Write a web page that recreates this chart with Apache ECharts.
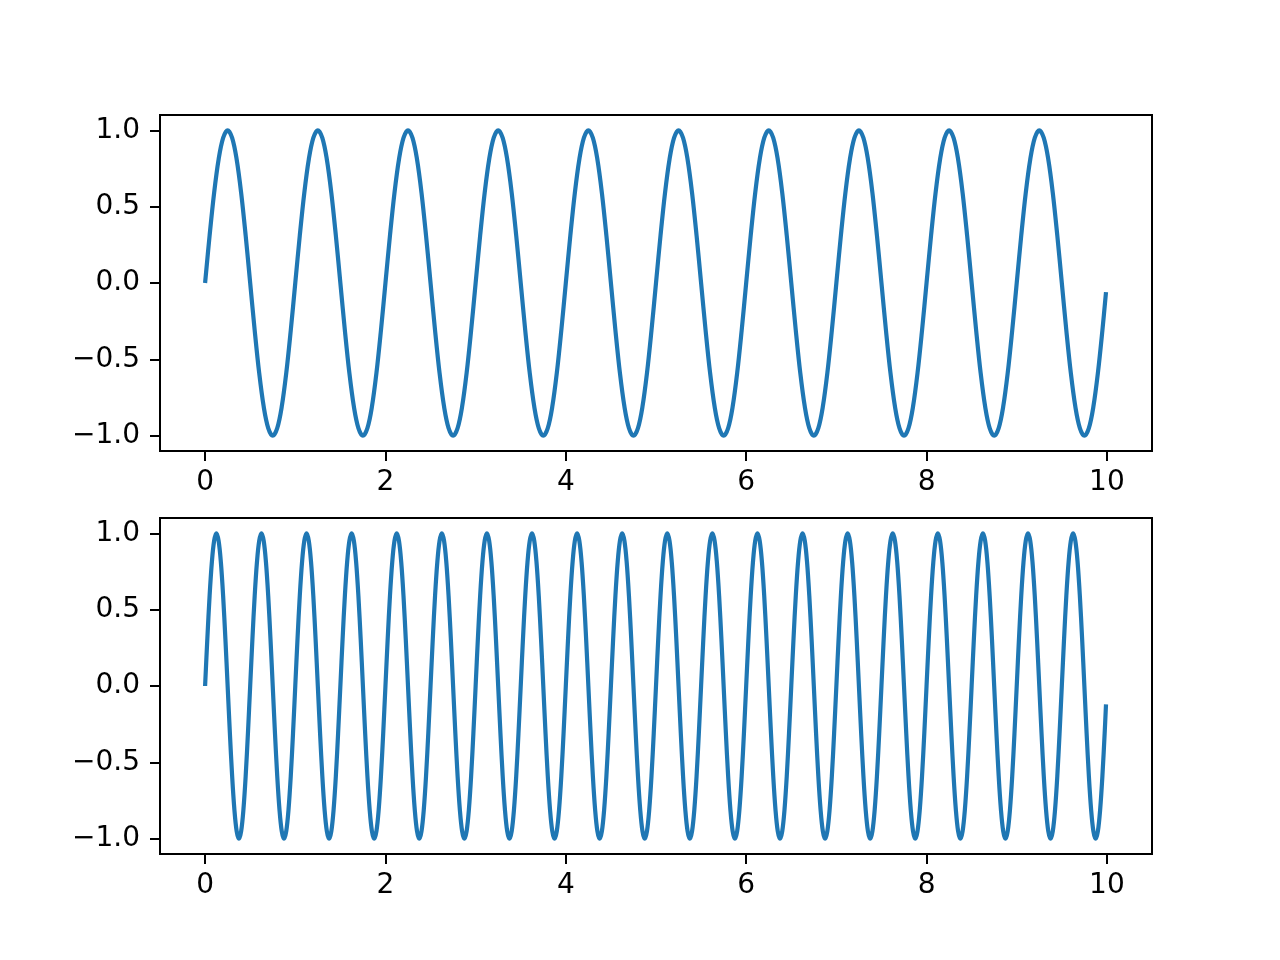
<!DOCTYPE html>
<html>
<head>
<meta charset="utf-8">
<script src="https://cdn.jsdelivr.net/npm/echarts@6/dist/echarts.min.js"></script>
<style>
  html, body { margin: 0; padding: 0; background: #fff; }
  #chart { width: 1280px; height: 960px; }
</style>
</head>
<body>
<div id="chart"></div>
<script>
// top panel: one full wave per unit, samples every 0.05
const xTop = [
  0, 0.05, 0.1, 0.15, 0.2, 0.25, 0.3, 0.35, 0.4, 0.45, 0.5, 0.55, 0.6, 0.65, 0.7, 0.75, 0.8, 0.85, 0.9, 0.95,
  1, 1.05, 1.1, 1.15, 1.2, 1.25, 1.3, 1.35, 1.4, 1.45, 1.5, 1.55, 1.6, 1.65, 1.7, 1.75, 1.8, 1.85, 1.9, 1.95,
  2, 2.05, 2.1, 2.15, 2.2, 2.25, 2.3, 2.35, 2.4, 2.45, 2.5, 2.55, 2.6, 2.65, 2.7, 2.75, 2.8, 2.85, 2.9, 2.95,
  3, 3.05, 3.1, 3.15, 3.2, 3.25, 3.3, 3.35, 3.4, 3.45, 3.5, 3.55, 3.6, 3.65, 3.7, 3.75, 3.8, 3.85, 3.9, 3.95,
  4, 4.05, 4.1, 4.15, 4.2, 4.25, 4.3, 4.35, 4.4, 4.45, 4.5, 4.55, 4.6, 4.65, 4.7, 4.75, 4.8, 4.85, 4.9, 4.95,
  5, 5.05, 5.1, 5.15, 5.2, 5.25, 5.3, 5.35, 5.4, 5.45, 5.5, 5.55, 5.6, 5.65, 5.7, 5.75, 5.8, 5.85, 5.9, 5.95,
  6, 6.05, 6.1, 6.15, 6.2, 6.25, 6.3, 6.35, 6.4, 6.45, 6.5, 6.55, 6.6, 6.65, 6.7, 6.75, 6.8, 6.85, 6.9, 6.95,
  7, 7.05, 7.1, 7.15, 7.2, 7.25, 7.3, 7.35, 7.4, 7.45, 7.5, 7.55, 7.6, 7.65, 7.7, 7.75, 7.8, 7.85, 7.9, 7.95,
  8, 8.05, 8.1, 8.15, 8.2, 8.25, 8.3, 8.35, 8.4, 8.45, 8.5, 8.55, 8.6, 8.65, 8.7, 8.75, 8.8, 8.85, 8.9, 8.95,
  9, 9.05, 9.1, 9.15, 9.2, 9.25, 9.3, 9.35, 9.4, 9.45, 9.5, 9.55, 9.6, 9.65, 9.7, 9.75, 9.8, 9.85, 9.9, 9.95,
  9.99
];
const yTop = [
  0, 0.31, 0.59, 0.81, 0.95, 1, 0.95, 0.81, 0.59, 0.31, 0, -0.31, -0.59, -0.81, -0.95, -1, -0.95, -0.81, -0.59, -0.31,
  0, 0.31, 0.59, 0.81, 0.95, 1, 0.95, 0.81, 0.59, 0.31, 0, -0.31, -0.59, -0.81, -0.95, -1, -0.95, -0.81, -0.59, -0.31,
  0, 0.31, 0.59, 0.81, 0.95, 1, 0.95, 0.81, 0.59, 0.31, 0, -0.31, -0.59, -0.81, -0.95, -1, -0.95, -0.81, -0.59, -0.31,
  0, 0.31, 0.59, 0.81, 0.95, 1, 0.95, 0.81, 0.59, 0.31, 0, -0.31, -0.59, -0.81, -0.95, -1, -0.95, -0.81, -0.59, -0.31,
  0, 0.31, 0.59, 0.81, 0.95, 1, 0.95, 0.81, 0.59, 0.31, 0, -0.31, -0.59, -0.81, -0.95, -1, -0.95, -0.81, -0.59, -0.31,
  0, 0.31, 0.59, 0.81, 0.95, 1, 0.95, 0.81, 0.59, 0.31, 0, -0.31, -0.59, -0.81, -0.95, -1, -0.95, -0.81, -0.59, -0.31,
  0, 0.31, 0.59, 0.81, 0.95, 1, 0.95, 0.81, 0.59, 0.31, 0, -0.31, -0.59, -0.81, -0.95, -1, -0.95, -0.81, -0.59, -0.31,
  0, 0.31, 0.59, 0.81, 0.95, 1, 0.95, 0.81, 0.59, 0.31, 0, -0.31, -0.59, -0.81, -0.95, -1, -0.95, -0.81, -0.59, -0.31,
  0, 0.31, 0.59, 0.81, 0.95, 1, 0.95, 0.81, 0.59, 0.31, 0, -0.31, -0.59, -0.81, -0.95, -1, -0.95, -0.81, -0.59, -0.31,
  0, 0.31, 0.59, 0.81, 0.95, 1, 0.95, 0.81, 0.59, 0.31, 0, -0.31, -0.59, -0.81, -0.95, -1, -0.95, -0.81, -0.59, -0.31,
  -0.06
];

// bottom panel: two waves per unit, samples every 0.025
const xBottom = [
  0, 0.025, 0.05, 0.075, 0.1, 0.125, 0.15, 0.175, 0.2, 0.225, 0.25, 0.275, 0.3, 0.325, 0.35, 0.375, 0.4, 0.425, 0.45, 0.475,
  0.5, 0.525, 0.55, 0.575, 0.6, 0.625, 0.65, 0.675, 0.7, 0.725, 0.75, 0.775, 0.8, 0.825, 0.85, 0.875, 0.9, 0.925, 0.95, 0.975,
  1, 1.025, 1.05, 1.075, 1.1, 1.125, 1.15, 1.175, 1.2, 1.225, 1.25, 1.275, 1.3, 1.325, 1.35, 1.375, 1.4, 1.425, 1.45, 1.475,
  1.5, 1.525, 1.55, 1.575, 1.6, 1.625, 1.65, 1.675, 1.7, 1.725, 1.75, 1.775, 1.8, 1.825, 1.85, 1.875, 1.9, 1.925, 1.95, 1.975,
  2, 2.025, 2.05, 2.075, 2.1, 2.125, 2.15, 2.175, 2.2, 2.225, 2.25, 2.275, 2.3, 2.325, 2.35, 2.375, 2.4, 2.425, 2.45, 2.475,
  2.5, 2.525, 2.55, 2.575, 2.6, 2.625, 2.65, 2.675, 2.7, 2.725, 2.75, 2.775, 2.8, 2.825, 2.85, 2.875, 2.9, 2.925, 2.95, 2.975,
  3, 3.025, 3.05, 3.075, 3.1, 3.125, 3.15, 3.175, 3.2, 3.225, 3.25, 3.275, 3.3, 3.325, 3.35, 3.375, 3.4, 3.425, 3.45, 3.475,
  3.5, 3.525, 3.55, 3.575, 3.6, 3.625, 3.65, 3.675, 3.7, 3.725, 3.75, 3.775, 3.8, 3.825, 3.85, 3.875, 3.9, 3.925, 3.95, 3.975,
  4, 4.025, 4.05, 4.075, 4.1, 4.125, 4.15, 4.175, 4.2, 4.225, 4.25, 4.275, 4.3, 4.325, 4.35, 4.375, 4.4, 4.425, 4.45, 4.475,
  4.5, 4.525, 4.55, 4.575, 4.6, 4.625, 4.65, 4.675, 4.7, 4.725, 4.75, 4.775, 4.8, 4.825, 4.85, 4.875, 4.9, 4.925, 4.95, 4.975,
  5, 5.025, 5.05, 5.075, 5.1, 5.125, 5.15, 5.175, 5.2, 5.225, 5.25, 5.275, 5.3, 5.325, 5.35, 5.375, 5.4, 5.425, 5.45, 5.475,
  5.5, 5.525, 5.55, 5.575, 5.6, 5.625, 5.65, 5.675, 5.7, 5.725, 5.75, 5.775, 5.8, 5.825, 5.85, 5.875, 5.9, 5.925, 5.95, 5.975,
  6, 6.025, 6.05, 6.075, 6.1, 6.125, 6.15, 6.175, 6.2, 6.225, 6.25, 6.275, 6.3, 6.325, 6.35, 6.375, 6.4, 6.425, 6.45, 6.475,
  6.5, 6.525, 6.55, 6.575, 6.6, 6.625, 6.65, 6.675, 6.7, 6.725, 6.75, 6.775, 6.8, 6.825, 6.85, 6.875, 6.9, 6.925, 6.95, 6.975,
  7, 7.025, 7.05, 7.075, 7.1, 7.125, 7.15, 7.175, 7.2, 7.225, 7.25, 7.275, 7.3, 7.325, 7.35, 7.375, 7.4, 7.425, 7.45, 7.475,
  7.5, 7.525, 7.55, 7.575, 7.6, 7.625, 7.65, 7.675, 7.7, 7.725, 7.75, 7.775, 7.8, 7.825, 7.85, 7.875, 7.9, 7.925, 7.95, 7.975,
  8, 8.025, 8.05, 8.075, 8.1, 8.125, 8.15, 8.175, 8.2, 8.225, 8.25, 8.275, 8.3, 8.325, 8.35, 8.375, 8.4, 8.425, 8.45, 8.475,
  8.5, 8.525, 8.55, 8.575, 8.6, 8.625, 8.65, 8.675, 8.7, 8.725, 8.75, 8.775, 8.8, 8.825, 8.85, 8.875, 8.9, 8.925, 8.95, 8.975,
  9, 9.025, 9.05, 9.075, 9.1, 9.125, 9.15, 9.175, 9.2, 9.225, 9.25, 9.275, 9.3, 9.325, 9.35, 9.375, 9.4, 9.425, 9.45, 9.475,
  9.5, 9.525, 9.55, 9.575, 9.6, 9.625, 9.65, 9.675, 9.7, 9.725, 9.75, 9.775, 9.8, 9.825, 9.85, 9.875, 9.9, 9.925, 9.95, 9.975,
  9.99
];
const yBottom = [
  0, 0.31, 0.59, 0.81, 0.95, 1, 0.95, 0.81, 0.59, 0.31, 0, -0.31, -0.59, -0.81, -0.95, -1, -0.95, -0.81, -0.59, -0.31,
  0, 0.31, 0.59, 0.81, 0.95, 1, 0.95, 0.81, 0.59, 0.31, 0, -0.31, -0.59, -0.81, -0.95, -1, -0.95, -0.81, -0.59, -0.31,
  0, 0.31, 0.59, 0.81, 0.95, 1, 0.95, 0.81, 0.59, 0.31, 0, -0.31, -0.59, -0.81, -0.95, -1, -0.95, -0.81, -0.59, -0.31,
  0, 0.31, 0.59, 0.81, 0.95, 1, 0.95, 0.81, 0.59, 0.31, 0, -0.31, -0.59, -0.81, -0.95, -1, -0.95, -0.81, -0.59, -0.31,
  0, 0.31, 0.59, 0.81, 0.95, 1, 0.95, 0.81, 0.59, 0.31, 0, -0.31, -0.59, -0.81, -0.95, -1, -0.95, -0.81, -0.59, -0.31,
  0, 0.31, 0.59, 0.81, 0.95, 1, 0.95, 0.81, 0.59, 0.31, 0, -0.31, -0.59, -0.81, -0.95, -1, -0.95, -0.81, -0.59, -0.31,
  0, 0.31, 0.59, 0.81, 0.95, 1, 0.95, 0.81, 0.59, 0.31, 0, -0.31, -0.59, -0.81, -0.95, -1, -0.95, -0.81, -0.59, -0.31,
  0, 0.31, 0.59, 0.81, 0.95, 1, 0.95, 0.81, 0.59, 0.31, 0, -0.31, -0.59, -0.81, -0.95, -1, -0.95, -0.81, -0.59, -0.31,
  0, 0.31, 0.59, 0.81, 0.95, 1, 0.95, 0.81, 0.59, 0.31, 0, -0.31, -0.59, -0.81, -0.95, -1, -0.95, -0.81, -0.59, -0.31,
  0, 0.31, 0.59, 0.81, 0.95, 1, 0.95, 0.81, 0.59, 0.31, 0, -0.31, -0.59, -0.81, -0.95, -1, -0.95, -0.81, -0.59, -0.31,
  0, 0.31, 0.59, 0.81, 0.95, 1, 0.95, 0.81, 0.59, 0.31, 0, -0.31, -0.59, -0.81, -0.95, -1, -0.95, -0.81, -0.59, -0.31,
  0, 0.31, 0.59, 0.81, 0.95, 1, 0.95, 0.81, 0.59, 0.31, 0, -0.31, -0.59, -0.81, -0.95, -1, -0.95, -0.81, -0.59, -0.31,
  0, 0.31, 0.59, 0.81, 0.95, 1, 0.95, 0.81, 0.59, 0.31, 0, -0.31, -0.59, -0.81, -0.95, -1, -0.95, -0.81, -0.59, -0.31,
  0, 0.31, 0.59, 0.81, 0.95, 1, 0.95, 0.81, 0.59, 0.31, 0, -0.31, -0.59, -0.81, -0.95, -1, -0.95, -0.81, -0.59, -0.31,
  0, 0.31, 0.59, 0.81, 0.95, 1, 0.95, 0.81, 0.59, 0.31, 0, -0.31, -0.59, -0.81, -0.95, -1, -0.95, -0.81, -0.59, -0.31,
  0, 0.31, 0.59, 0.81, 0.95, 1, 0.95, 0.81, 0.59, 0.31, 0, -0.31, -0.59, -0.81, -0.95, -1, -0.95, -0.81, -0.59, -0.31,
  0, 0.31, 0.59, 0.81, 0.95, 1, 0.95, 0.81, 0.59, 0.31, 0, -0.31, -0.59, -0.81, -0.95, -1, -0.95, -0.81, -0.59, -0.31,
  0, 0.31, 0.59, 0.81, 0.95, 1, 0.95, 0.81, 0.59, 0.31, 0, -0.31, -0.59, -0.81, -0.95, -1, -0.95, -0.81, -0.59, -0.31,
  0, 0.31, 0.59, 0.81, 0.95, 1, 0.95, 0.81, 0.59, 0.31, 0, -0.31, -0.59, -0.81, -0.95, -1, -0.95, -0.81, -0.59, -0.31,
  0, 0.31, 0.59, 0.81, 0.95, 1, 0.95, 0.81, 0.59, 0.31, 0, -0.31, -0.59, -0.81, -0.95, -1, -0.95, -0.81, -0.59, -0.31,
  -0.12
];

const xTicks = [0, 2, 4, 6, 8, 10];
const yTicks = [-1, -0.5, 0, 0.5, 1];

let chart = echarts.init(document.getElementById('chart'));

function pairs(xs, ys) {
  return xs.map((x, i) => [x, ys[i]]);
}

const font = { fontFamily: 'DejaVu Sans', fontSize: 28, color: '#000' };
const tick = { show: true, length: 10, lineStyle: { color: '#000', width: 2 } };

function makeX(idx) {
  return {
    type: 'value', gridIndex: idx, min: -0.5, max: 10.5,
    axisLine: { show: false, onZero: false },
    splitLine: { show: false },
    axisTick: Object.assign({ customValues: xTicks }, tick),
    axisLabel: Object.assign({ customValues: xTicks, margin: 18 }, font)
  };
}

function makeY(idx) {
  return {
    type: 'value', gridIndex: idx, min: -1.1, max: 1.1,
    axisLine: { show: false, onZero: false },
    splitLine: { show: false },
    axisTick: Object.assign({ customValues: yTicks }, tick),
    axisLabel: Object.assign({
      customValues: yTicks, margin: 20,
      formatter: v => (v < 0 ? '\u2212' : '') + Math.abs(v).toFixed(1)
    }, font)
  };
}

function makeLine(idx, data) {
  return {
    type: 'line', xAxisIndex: idx, yAxisIndex: idx,
    data: data, showSymbol: false, symbol: 'none',
    smooth: 0.35,
    lineStyle: { color: '#1f77b4', width: 4.2 },
    itemStyle: { color: '#1f77b4' }
  };
}

let option = {
  animation: false,
  backgroundColor: '#fff',
  grid: [
    { left: 160, right: 128, top: 115, height: 336, show: true, borderColor: '#000', borderWidth: 2 },
    { left: 160, right: 128, top: 518, height: 336, show: true, borderColor: '#000', borderWidth: 2 }
  ],
  xAxis: [makeX(0), makeX(1)],
  yAxis: [makeY(0), makeY(1)],
  series: [
    makeLine(0, pairs(xTop, yTop)),
    makeLine(1, pairs(xBottom, yBottom))
  ]
};
chart.setOption(option);
</script>
</body>
</html>
